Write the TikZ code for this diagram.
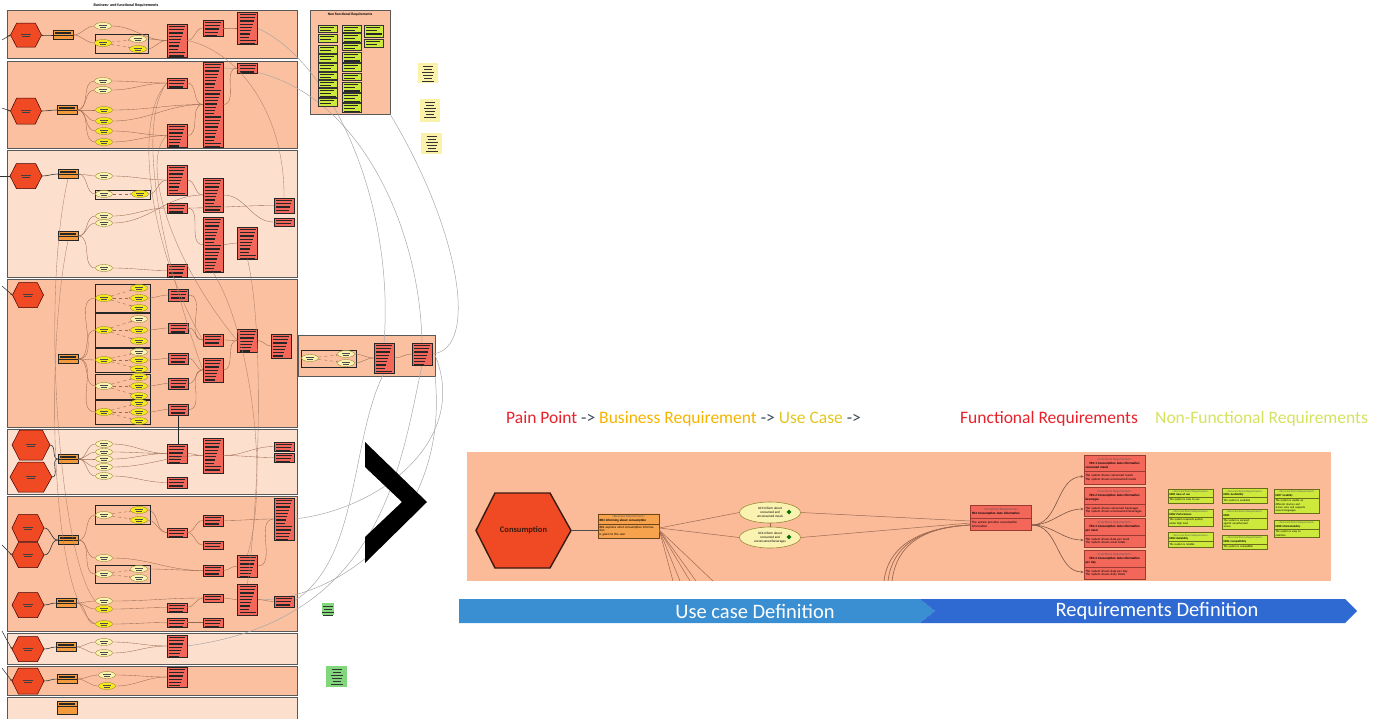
\documentclass[tikz,border=0pt]{standalone}
\usepackage{fontspec}
\setmainfont{Carlito}
\usetikzlibrary{shapes.geometric,shapes.multipart,arrows.meta}

\definecolor{laneA}{HTML}{FAC0A0}
\definecolor{laneB}{HTML}{FDDFCE}
\definecolor{painred}{HTML}{EF4A23}
\definecolor{hexedge}{HTML}{3A1A10}
\definecolor{brorange}{HTML}{F29A3C}
\definecolor{brlight}{HTML}{F7A24C}
\definecolor{frred}{HTML}{F2675A}
\definecolor{frborder}{HTML}{9A3A30}
\definecolor{ucpale}{HTML}{F9F2B0}
\definecolor{ucbright}{HTML}{F5E81E}
\definecolor{ucedge}{HTML}{9A8A38}
\definecolor{nfrgreen}{HTML}{CDEA3C}
\definecolor{nfredge}{HTML}{6B6B1E}
\definecolor{notey}{HTML}{FBF2AA}
\definecolor{notegreen}{HTML}{82D77C}
\definecolor{linkbrown}{HTML}{9C6A52}
\definecolor{curvegray}{HTML}{A8A8A8}
\definecolor{panelfill}{HTML}{FBBB98}
\definecolor{ppcol}{HTML}{E8212B}
\definecolor{brcol}{HTML}{F6B400}
\definecolor{uccol}{HTML}{E3C61E}
\definecolor{arrcol}{HTML}{3E4A5A}
\definecolor{nfrcol}{HTML}{D5E25E}
\definecolor{blueA}{HTML}{3A8ED2}
\definecolor{blueB}{HTML}{2F69D2}

\newcommand\painhex[5]{%
  \filldraw[hexline] (#2-#4/2,#3) -- (#2-0.3*#4,#3-#5/2) -- (#2+0.3*#4,#3-#5/2)
    -- (#2+#4/2,#3) -- (#2+0.3*#4,#3+#5/2) -- (#2-0.3*#4,#3+#5/2) -- cycle;
  \node[painlbl,minimum width=#4,minimum height=#5] (#1) at (#2,#3) {};}

\begin{document}
\begin{tikzpicture}[x=1pt,y=-1pt,
  lane/.style={draw=black!65,line width=0.9,anchor=north west,inner sep=0,minimum width=290},
  hexline/.style={draw=black!75!red,fill=painred,line width=0.5},
  painlbl/.style={inner sep=0,path picture={
    \draw[black!75,line width=0.8] ([xshift=-5pt,yshift=1pt]path picture bounding box.center) -- ++(10pt,0pt);
    \draw[black!75,line width=0.8] ([xshift=-4pt,yshift=-1pt]path picture bounding box.center) -- ++(8pt,0pt);}},
  brs/.style={draw=black!85,fill=brorange,line width=0.5,minimum width=20,minimum height=9,inner sep=0,path picture={
    \draw[black!85,line width=1.2] ([xshift=2pt,yshift=-2.5pt]path picture bounding box.north west) -- ++(16pt,0pt);
    \draw[black!85,line width=0.5] ([yshift=-5pt]path picture bounding box.north west) -- ++(20pt,0pt);}},
  frs/.style={draw=black!85,fill=frred,line width=0.5,minimum width=20,inner sep=0,path picture={
    \foreach \k in {1,...,30}
      \draw[black!85,line width=1.3] ([xshift=2pt,yshift=-\k*3.3pt+1pt]path picture bounding box.north west) -- ++({(9+mod(\k*7,8))*1pt},0pt);}},
  ucp/.style={ellipse,draw=ucedge,line width=0.4,fill=ucpale,minimum width=17,minimum height=7,inner sep=0,path picture={
    \draw[black!70,line width=0.7] ([xshift=-4pt,yshift=1pt]path picture bounding box.center) -- ++(8pt,0pt);
    \draw[black!70,line width=0.7] ([xshift=-3pt,yshift=-1pt]path picture bounding box.center) -- ++(6pt,0pt);}},
  ucb/.style={ucp,fill=ucbright},
  grp/.style={draw=black!85,line width=0.7,anchor=north west,inner sep=0},
  nfs/.style={draw=black!80,fill=nfrgreen,line width=0.4,minimum width=19,inner sep=0,path picture={
    \foreach \k in {1,...,8}
      \draw[black!85,line width=1.1] ([xshift=1.5pt,yshift=-\k*3.2pt+0.6pt]path picture bounding box.north west) -- ++({(9+mod(\k*5,8))*1pt},0pt);}},
  sticky/.style={fill=notey,inner sep=0,path picture={
    \foreach \k in {1,...,6}
      \draw[black!80,line width=0.6] ([xshift={-(6-mod(\k,3))*1pt},yshift=-\k*3pt]path picture bounding box.north) -- ++({(12-2*mod(\k,3))*1pt},0pt);}},
  gnote/.style={sticky,fill=notegreen},
  link/.style={draw=linkbrown,line width=0.35},
  inclink/.style={draw=linkbrown,line width=0.35,dashed,-{Stealth[length=1.6pt,width=1.4pt]}},
  hexlink/.style={draw=black!80,line width=0.6},
  longlink/.style={draw=linkbrown!85,line width=0.35},
  graycurve/.style={draw=curvegray,line width=0.5},
  inarrow/.style={draw=black!85,line width=0.5,-{Stealth[length=2pt]}},
  panel/.style={fill=panelfill,anchor=north west,inner sep=0,minimum width=864,minimum height=129},
  bighex/.style={draw=hexedge,fill=painred,line width=1.4},
  brbig/.style={rectangle split,rectangle split parts=2,draw=black!55!brorange,fill=brlight,line width=0.5,
    text width=58,inner xsep=1.5,inner ysep=1.6,font=\fontsize{3.2}{3.8}\selectfont},
  ucbig/.style={ellipse,draw=ucedge,fill=ucpale,line width=0.6,minimum width=61,minimum height=21,inner sep=0,
    align=center,font=\fontsize{3.3}{3.9}\selectfont},
  frbig/.style={rectangle split,rectangle split parts=2,draw=frborder,fill=frred,line width=0.5,
    text width=58,inner xsep=1.5,inner ysep=2.8,font=\fontsize{3.2}{3.8}\selectfont},
  nfbig/.style={rectangle split,rectangle split parts=2,draw=nfredge,fill=nfrgreen,line width=0.6,
    text width=42,inner xsep=1.5,inner ysep=1.3,font=\fontsize{2.8}{3.3}\selectfont},
  gem/.style={diamond,fill=green!45!black,minimum size=5,inner sep=0},
  bigline/.style={draw=linkbrown,line width=0.5},
  frarrow/.style={draw=linkbrown!80!black,line width=0.6,-{Stealth[length=3pt,width=2.5pt]}},
  hdr/.style={font=\fontsize{17.5}{20}\selectfont,inner sep=0},
  band/.style={font=\fontsize{20.5}{24}\selectfont,text=white,inner sep=0}]

\useasboundingbox (0,0) rectangle (1385,718);

\foreach \n/\y/\h/\c in {lane1/10/48/laneA,lane2/61/87/laneA,lane3/150/127/laneB,lane4/279/148/laneA,
    lane5/429/65/laneB,lane6/496/135/laneA,lane7/633/31/laneB,lane8/666/29/laneA,lane9/697/30/laneB}
  \node[lane,fill=\c,minimum height=\h] (\n) at (7,\y) {};
\node[font=\bfseries\fontsize{4}{4}\selectfont,inner sep=0] (title) at (126,5) {Business- and functional Requirements};

\node[lane,fill=laneA,minimum width=80,minimum height=104] (nfrpanel) at (310,10) {};
\node[font=\bfseries\fontsize{3.6}{4}\selectfont,inner sep=0] (nfrtitle) at (350,15) {Non Functional Requirements};
\node[lane,fill=laneA,minimum width=137,minimum height=41] (lanex) at (298,335) {};

\foreach \n/\x/\y/\w/\h in {g1/95/34/53/19,g3/95/190/55/9,g4a/95/284/55/28,g4b/95/313/55/34,g4c/95/348/55/24,
    g4d/95/374/55/25,g4e/95/400/55/24,g6a/95/505/55/19,g6b/95/565/55/18,gx/301/350/55/17}
  \node[grp,minimum width=\w,minimum height=\h] (\n) at (\x,\y) {};

\draw[graycurve] (257,28) .. controls (330,60) and (395,200) .. (384,343);
\draw[graycurve] (223,68) .. controls (350,70) and (420,220) .. (422,343);
\draw[graycurve] (432,354) .. controls (480,350) and (460,230) .. (390,114);
\draw[graycurve] (384,373) .. controls (350,440) and (360,560) .. (294,601);
\draw[graycurve] (422,365) .. controls (400,470) and (380,620) .. (187,646);
\draw[graycurve] (294,519) .. controls (380,510) and (470,440) .. (435,355);
\draw[graycurve] (257,600) .. controls (340,600) and (450,520) .. (435,376);

\painhex{h1}{26}{35}{31}{24}
\painhex{h2}{26}{111}{31}{26}
\painhex{h3}{26}{176}{32}{25}
\painhex{h4}{28}{295}{31}{25}
\painhex{h5a}{31}{445}{38}{30}
\painhex{h5b}{31}{477}{42}{30}
\painhex{h6a}{28}{528}{32}{27}
\painhex{h6b}{28}{555}{32}{25}
\painhex{h6c}{28}{605}{32}{25}
\painhex{h7}{28}{649}{32}{25}
\painhex{h8}{28}{681}{32}{26}

\foreach \n/\x/\y in {m1/2/40,m2/2/108,m3/0/176,m4/2/286,m6/2/545,m7/2/631,m8/2/668}
  \coordinate (\n) at (\x,\y);
\foreach \a/\b in {m1/h1,m2/h2,m4/h4,m6/h6b,m7/h7,m8/h8}
  \draw[inarrow] (\a) -- (\b.west);
\draw[hexlink] (m3) -- (h3.west);

\foreach \n/\x/\y in {b1/63/35,b2/67/110,b3a/68/174,b3b/68/236,b4/68/359,b5/68/459,b6a/68/540,b6b/66/603,b7/66/647,b8/67/679}
  \node[brs] (\n) at (\x,\y) {};
\node[brs,minimum height=13] (b9) at (67,708) {};

\foreach \n/\x/\y in {u1a/103/26,u1c/138/39,u2a/103/81,u2b/103/90,u3a/104/176,u3b/104/194,u3d/104/216,u3e/104/223,
    u3f/104/268,u4b1/139/319,u4c1/139/352,u4d/104/386,u5a/104/444,u5b/104/452,u5c/104/459,u5d/104/467,u5e/104/476,
    u6a/104/515,u6d/104/558,u6e/104/574,u6f/139/569,u6g/139/578,u6h/104/601,u7a/104/642,u7b/104/653,u8a/107/675,
    uxa/310/358,uxb/346/354,uxc/346/363}
  \node[ucp] (\n) at (\x,\y) {};
\foreach \n/\x/\y in {u1b/103/43,u1d/138/49,u2c/104/110,u2d/104/121,u2e/104/131,u2f/104/142,u3c/140/194,
    u4a/104/298,u4a1/139/288,u4a2/139/298,u4a3/139/308,u4b/104/330,u4b2/139/330,u4b3/139/341,u4c/104/360,
    u4c2/139/360,u4c3/139/369,u4d1/139/377,u4d2/139/386,u4d3/139/396,u4e/104/412,u4e1/139/403,u4e2/139/412,
    u4e3/139/421,u6b/139/510,u6c/139/520,u6i/104/609,u6j/104/624,u8b/107/686}
  \node[ucb] (\n) at (\x,\y) {};

\foreach \n/\x/\y/\h in {f1a/177/40.5/33,f1b/213/28/16,f1c/247.5/28/32,
    f2a/177/83/10,f2b/213/104.5/85,f2c/247.5/68/10,f2d/177/135.5/23,
    f3a/177/180/30,f3b/177/208/10,f3c/213/195/34,f3d/213/244.5/55,f3e/247.5/243/32,f3f/284/205.5/15,f3g/284/222/8,f3h/177/270.5/13,
    f4a/178.5/295/12,f4b/178.5/328/10,f4c/178.5/358.5/11,f4d/178.5/383.5/11,f4e/178.5/409.5/11,
    f4f/213/340/12,f4g/213/370/24,f4h/247.5/340.5/23,f4i/281/346/24,
    f5a/177/453.5/19,f5b/177/482.5/11,f5c/213/455.5/35,f5d/284/446.5/9,f5e/284/457.5/9,
    f6a/177/532.5/9,f6b/213/520.5/11,f6c/213/545/8,f6d/213/570.5/11,f6e/247.5/566/22,f6f/284/519/42,
    f6g/177/607.5/9,f6h/213/598/8,f6i/247.5/599.5/31,f6j/284/601.5/11,f6k/177/622.5/9,f6l/213/622.5/9,
    f7a/177/646/22,f8a/177/677/20,fxa/384/358/30,fxb/422/354/22}
  \node[frs,minimum height=\h] (\n) at (\x,\y) {};

\foreach \a/\b in {h1/b1,h2/b2,h3/b3a,h5a/b5,h5b/b5,h6a/b6a,h6b/b6a,h6c/b6b,h7/b7,h8/b8}
  \draw[hexlink] (\a) to[out=0,in=180] (\b);

\foreach \a/\b in {b1/u1a,b1/u1b,u1a/f1a,u1c/f1a,u1d/f1a,f1a/f1b,f1b/f1c,
    b2/u2a,b2/u2b,b2/u2c,b2/u2d,b2/u2e,b2/u2f,u2a/f2a,u2b/f2a,f2a/f2b,u2c/f2b,u2d/f2b,u2e/f2d,u2f/f2d,f2b/f2c,f2d/f2b,
    b3a/u3a,b3a/u3b,u3a/f3a,u3c/f3a,f3a/f3c,b3b/u3d,b3b/u3e,b3b/u3f,u3d/f3b,u3e/f3c,f3b/f3d,f3b/f3f,f3c/f3g,f3d/f3e,u3f/f3h,
    b4/u4a,b4/u4b,b4/u4c,b4/u4d,b4/u4e,u4a2/f4a,u4b2/f4b,u4c2/f4c,u4d2/f4d,u4e2/f4e,f4a/f4f,f4b/f4f,f4c/f4g,f4d/f4g,
    f4e/f4g,f4f/f4h,f4g/f4h,f4h/f4i,
    b5/u5a,b5/u5b,b5/u5c,b5/u5d,b5/u5e,u5a/f5a,u5b/f5a,u5c/f5a,u5d/f5c,u5e/f5b,f5a/f5c,f5c/f5d,f5c/f5e,
    b6a/u6a,b6a/u6d,b6a/u6e,u6b/f6a,u6c/f6a,f6a/f6b,f6a/f6c,f6b/f6f,u6d/f6d,u6f/f6d,f6d/f6e,f6e/f6f,
    b6b/u6h,b6b/u6i,b6b/u6j,u6h/f6h,u6i/f6g,f6g/f6h,f6h/f6i,f6i/f6j,u6j/f6k,f6k/f6l,
    b7/u7a,b7/u7b,u7a/f7a,u7b/f7a,b8/u8a,b8/u8b,u8a/f8a,u8b/f8a,uxb/fxa,uxc/fxa,fxa/fxb}
  \draw[link] (\a) to[out=0,in=180] (\b);

\foreach \a/\b in {u1b/u1c,u1b/u1d,u3b/u3c,u4a/u4a1,u4a/u4a2,u4a/u4a3,u4b/u4b1,u4b/u4b2,u4b/u4b3,u4c/u4c1,u4c/u4c2,
    u4c/u4c3,u4d/u4d1,u4d/u4d2,u4d/u4d3,u4e/u4e1,u4e/u4e2,u4e/u4e3,u6a/u6b,u6a/u6c,u6e/u6f,u6e/u6g,uxa/uxb,uxa/uxc}
  \draw[inclink] (\a) -- (\b);

\draw[black!85,line width=1] (f4e.south) -- (f4e.south |- f5a.north);
\draw[longlink] (f1a.east) .. controls (235,50) and (285,110) .. (f3f.north);
\draw[longlink] (f2a.west) .. controls (132,120) and (150,250) .. (f4f.west);
\draw[longlink] (f2a.west) .. controls (136,125) and (160,250) .. (f4g.west);
\draw[longlink] (f2d.west) .. controls (140,160) and (170,260) .. (f4h.west);
\draw[longlink] (b3b.south) .. controls (45,350) and (50,600) .. (u6j.west);
\draw[longlink] (b3a.south) .. controls (40,300) and (60,560) .. (u6h.west);
\draw[longlink] (f3d.south) .. controls (250,330) and (270,480) .. (f6e.north);
\draw[longlink] (f3e.south) .. controls (262,320) and (262,470) .. (f6i.north);

\foreach \n/\x/\y/\h in {nfa1/327.5/28.5/7,nfa2/327.5/38/8,nfa3/327.5/49/8,nfa4/327.5/58/8,nfa5/327.5/67/8,
    nfa6/327.5/75.5/7,nfa7/327.5/83.5/7,nfa8/327.5/92.5/9,nfa9/327.5/102/8,
    nfb1/351.5/28.5/7,nfb2/351.5/37.5/9,nfb3/351.5/46.5/7,nfb4/351.5/57/10,nfb5/351.5/67/8,
    nfb6/351.5/76.5/7,nfb7/351.5/87/10,nfb8/351.5/97.5/9,nfb9/351.5/107.5/9,
    nfc1/373.5/31/12,nfc2/373.5/43/8}
  \node[nfs,minimum height=\h] (\n) at (\x,\y) {};

\node[sticky,minimum width=20,minimum height=20] (sn1) at (428,73) {};
\node[sticky,minimum width=20,minimum height=23] (sn2) at (430,110.5) {};
\node[sticky,minimum width=21,minimum height=21] (sn3) at (431.5,143.5) {};
\node[gnote,minimum width=12,minimum height=12] (gn1) at (328,609) {};
\node[gnote,minimum width=21,minimum height=21] (gn2) at (336.5,676.5) {};

\fill[black] (365,442) -- (427,502) -- (365,563) -- (365,537) -- (402,502) -- (365,467) -- cycle;

\node[hdr,anchor=west] (hdr1) at (506,419) {\textcolor{ppcol}{Pain Point} \textcolor{arrcol}{->}
  \textcolor{brcol}{Business Requirement} \textcolor{arrcol}{->} \textcolor{uccol}{Use Case} \textcolor{arrcol}{->}};
\node[hdr,anchor=west,text=ppcol] (hdr2) at (960,419) {Functional Requirements};
\node[hdr,anchor=west,text=nfrcol] (hdr3) at (1155,419) {Non-Functional Requirements};

\node[panel] (strip) at (467,452) {};
\filldraw[bighex] (476,530.5) -- (495,493) -- (550,493) -- (571,530.5) -- (550,568) -- (495,568) -- cycle;
\node[font=\bfseries\fontsize{8.5}{10}\selectfont,text=hexedge,minimum width=95,minimum height=75,inner sep=0]
  (cons) at (523.5,530.5) {Consumption};

\node[brbig] (br) at (628.5,526) {\centering \textcolor{black!65}{«Business Requirement»}\\ \textbf{BR4 Informing about consumption}
  \nodepart{two} BR4 explains what consumption information\\ is given to the user};

\node[ucbig] (uc3) at (770,512.5) {UC3 Inform about\\ consumed and\\ unconsumed meals};
\node[ucbig] (uc4) at (770,537.5) {UC4 Inform about\\ consumed and\\ unconsumed beverages};
\node[gem] (gm3) at (789,512) {};
\node[gem] (gm4) at (789,537) {};

\node[frbig] (fr) at (1001,518) {\centering \textcolor{black!65}{«Functional Requirement»}\\ \textbf{FR4 Consumption data information}
  \nodepart{two} The system provides consumption\\ information};
\node[frbig] (fr1) at (1114.5,469.5) {\centering \textcolor{black!65}{«Functional Requirement»}\\ \textbf{FR4.1 Consumption data information}\\ \textbf{consumed meals}
  \nodepart{two} The system shows consumed meals\\ The system shows unconsumed meals};
\node[frbig] (fr2) at (1114.5,502) {\centering \textcolor{black!65}{«Functional Requirement»}\\ \textbf{FR4.2 Consumption data information}\\ \textbf{beverages}
  \nodepart{two} The system shows consumed beverages\\ The system shows unconsumed beverages};
\node[frbig] (fr3) at (1114.5,533) {\centering \textcolor{black!65}{«Functional Requirement»}\\ \textbf{FR4.3 Consumption data information}\\ \textbf{per meal}
  \nodepart{two} The system shows data per meal\\ The system shows meal totals};
\node[frbig] (fr4) at (1114.5,565) {\centering \textcolor{black!65}{«Functional Requirement»}\\ \textbf{FR4.4 Consumption data information}\\ \textbf{per day}
  \nodepart{two} The system shows data per day\\ The system shows daily totals};

\node[nfbig] (nf1) at (1190.5,496) {\centering \textcolor{black!65}{«Non-Functional Requirement»}\\ \textbf{NFR1 Ease of use}
  \nodepart{two} The system is easy to use};
\node[nfbig] (nf2) at (1190.5,517.5) {\centering \textcolor{black!65}{«Non-Functional Requirement»}\\ \textbf{NFR2 Performance}
  \nodepart{two} The system responds quickly\\ under high load};
\node[nfbig] (nf3) at (1190.5,540) {\centering \textcolor{black!65}{«Non-Functional Requirement»}\\ \textbf{NFR3 Reliability}
  \nodepart{two} The system is reliable};
\node[nfbig] (nf4) at (1244.5,496) {\centering \textcolor{black!65}{«Non-Functional Requirement»}\\ \textbf{NFR4 Availability}
  \nodepart{two} The system is available};
\node[nfbig] (nf5) at (1244.5,519.5) {\centering \textcolor{black!65}{«Non-Functional Requirement»}\\ \textbf{NFR5}
  \nodepart{two} The system is secured\\ against unauthorized\\ access};
\node[nfbig] (nf6) at (1244.5,542.5) {\centering \textcolor{black!65}{«Non-Functional Requirement»}\\ \textbf{NFR6 Compatibility}
  \nodepart{two} The system is compatible};
\node[nfbig] (nf7) at (1296.5,501.5) {\centering \textcolor{black!65}{«Non-Functional Requirement»}\\ \textbf{NFR7 Usability}
  \nodepart{two} The system is usable on\\ different devices and\\ screen sizes and supports\\ several languages};
\node[nfbig] (nf8) at (1296.5,529) {\centering \textcolor{black!65}{«Non-Functional Requirement»}\\ \textbf{NFR8 Maintainability}
  \nodepart{two} The system is easy to\\ maintain};

\draw[bigline,draw=black!70,line width=0.8] (cons.east) -- (cons.east -| br.west);
\draw[bigline] ([yshift=-2pt]br.east) -- (uc3.west);
\draw[bigline] ([yshift=-2pt]br.east) -- (uc4.west);
\draw[bigline] (uc3) -- (uc4);
\foreach \n/\x in {fo1/673,fo2/680,fo3/690,fo4/696,fo5/713}{
  \coordinate (\n) at (\x,581);
  \draw[bigline] ([yshift=-4pt]br.east) -- (\n);}
\draw[bigline] (uc3.east) -- ([yshift=-3pt]fr.west);
\draw[bigline] (uc4.east) -- ([yshift=-5pt]fr.west);
\foreach \n/\x in {cb1/884,cb2/888,cb3/892}{
  \coordinate (\n) at (\x,581);
  \draw[bigline,line width=0.7] (\n) .. controls (\x+5,540) and (930,527) .. ([yshift=-7pt]fr.west);}
\foreach \t in {fr1,fr2,fr3,fr4}
  \draw[frarrow] ([yshift=-7pt]fr.east) to[out=0,in=180] ([yshift=-7pt]\t.west);

\fill[blueA] (459,599) -- (920,599) -- (935,611) -- (920,623) -- (459,623) -- cycle;
\fill[blueB] (920,599) -- (1345,599) -- (1357,611) -- (1345,623) -- (920,623) -- (935,611) -- cycle;
\node[band] (ucdef) at (755,611) {Use case Definition};
\node[band] (reqdef) at (1157,611) {Requirements Definition};
\end{tikzpicture}
\end{document}
